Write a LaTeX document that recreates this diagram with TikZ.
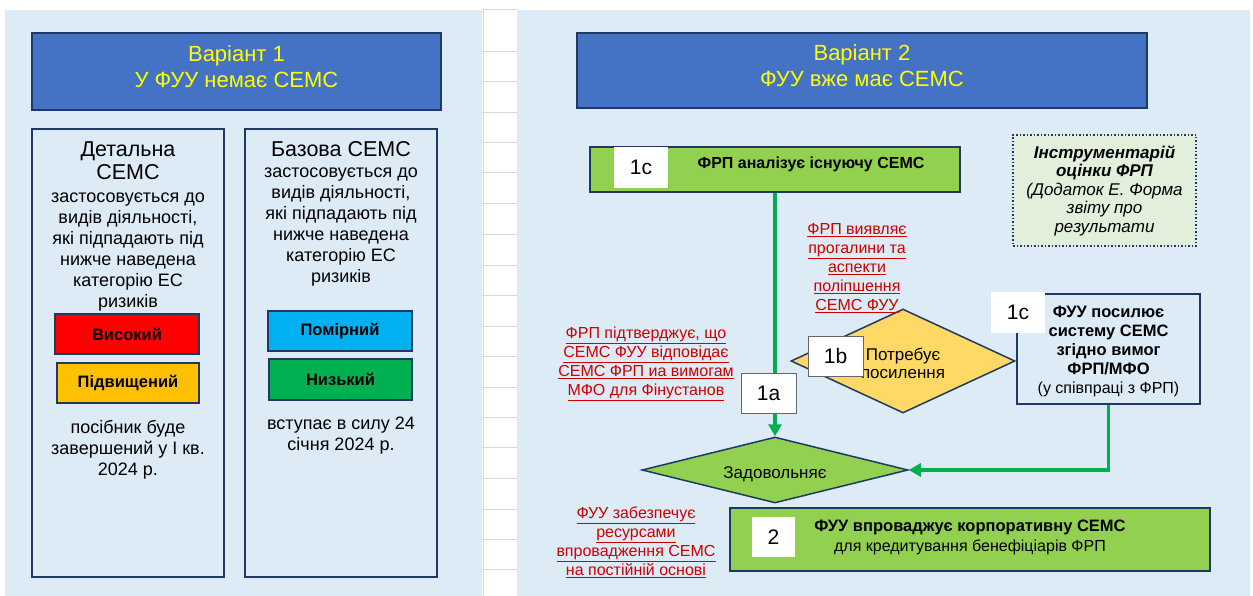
\documentclass[tikz,border=0pt]{standalone}
\usepackage{fontspec}
\setmainfont{Liberation Sans}
\usetikzlibrary{shapes.geometric,arrows.meta}
\definecolor{bgblue}{RGB}{221,235,247}
\definecolor{titleblue}{RGB}{68,114,196}
\definecolor{navy}{RGB}{31,56,100}
\definecolor{ttlyellow}{RGB}{255,255,0}
\definecolor{riskred}{RGB}{255,0,0}
\definecolor{riskorange}{RGB}{255,192,0}
\definecolor{riskblue}{RGB}{0,176,240}
\definecolor{riskgreen}{RGB}{0,176,80}
\definecolor{stepgreen}{RGB}{146,208,80}
\definecolor{diayellow}{RGB}{255,217,102}
\definecolor{toolgreen}{RGB}{226,239,218}
\definecolor{flowgreen}{RGB}{0,176,80}
\definecolor{myred}{RGB}{204,0,0}
\definecolor{gridgray}{RGB}{217,217,217}
\tikzset{
  titlebox/.style={draw=navy, line width=2pt, fill=titleblue, inner sep=0pt},
  titletxt/.style={text=ttlyellow, font=\fontsize{22}{26}\selectfont, align=center, inner sep=0pt},
  framebox/.style={draw=navy, line width=2pt, fill=bgblue, inner sep=0pt},
  riskbox/.style={draw=navy, line width=2pt, font=\bfseries\fontsize{16.5}{18}\selectfont,
    inner sep=0pt, minimum width=144pt, minimum height=40pt},
  bigtxt/.style={font=\fontsize{21.5}{23}\selectfont, align=center, inner sep=0pt},
  smalltxt/.style={font=\fontsize{18}{21}\selectfont, align=center, inner sep=0pt},
  numlabel/.style={fill=white, font=\fontsize{21}{24}\selectfont, inner sep=0pt,
    minimum width=54pt, minimum height=41pt},
  numlabelb/.style={numlabel, draw=black!60, line width=0.8pt},
  redlines/.style={text=myred, font=\fontsize{16}{19}\selectfont, align=center, inner sep=0pt},
  flowline/.style={draw=flowgreen, line width=3.5pt, -{Triangle[length=12pt,width=13pt]}},
  stepbox/.style={draw=navy, line width=2pt, fill=stepgreen, inner sep=0pt},
}
\begin{document}
\begin{tikzpicture}[x=1pt,y=-1pt]
\useasboundingbox[fill=white] (0,0) rectangle (1253,596);
% panels
\fill[bgblue] (5,10) rectangle (482,596);
\fill[bgblue] (517,10) rectangle (1250,596);
% spreadsheet grid strip
\foreach \yy in {10,52,82,113,143,173,204,235,265,295,326,356,387,417,447,478,509,539,569}
  \draw[gridgray, line width=1pt] (482,\yy) -- (517,\yy);
\draw[gridgray, line width=0.8pt] (483,10) -- (483,596);

% ===== Variant 1 =====
\node[titlebox, minimum width=409pt, minimum height=77pt] (t1) at (236.5,71.5) {};
\node[titletxt] (t1txt) at (236.5,67) {Варіант 1\\У ФУУ немає СЕМС};
\node[framebox, minimum width=192pt, minimum height=448pt] (det) at (128,353) {};
\node[framebox, minimum width=192pt, minimum height=448pt] (baz) at (341,353) {};

\node[bigtxt] (dethead) at (128,160.5) {Детальна\\СЕМС};
\node[smalltxt] (detbody) at (128,252.5)
  {застосовується до\\видів діяльності,\\які підпадають під\\нижче наведена\\категорію ЕС\\ризиків};
\node[riskbox, fill=riskred] (high) at (127,334) {Високий};
\node[riskbox, fill=riskorange, minimum width=142pt] (elev) at (128,383) {Підвищений};
\node[smalltxt] (detnote) at (128,450) {посібник буде\\завершений у І кв.\\2024 р.};

\node[bigtxt] (bazhead) at (341,149) {Базова СЕМС};
\node[smalltxt] (bazbody) at (341,227.5)
  {застосовується до\\видів діяльності,\\які підпадають під\\нижче наведена\\категорію ЕС\\ризиків};
\node[riskbox, fill=riskblue] (moder) at (340,331) {Помірний};
\node[riskbox, fill=riskgreen, minimum width=143pt, minimum height=41pt] (low) at (340.5,379.5) {Низький};
\node[smalltxt] (baznote) at (341,435.5) {вступає в силу 24\\січня 2024 р.};

% ===== Variant 2 =====
\node[titlebox, minimum width=570pt, minimum height=75pt] (t2) at (862,70.5) {};
\node[titletxt] (t2txt) at (862,66) {Варіант 2\\ФУУ вже має СЕМС};

\node[stepbox, minimum width=370pt, minimum height=45pt] (s1c) at (775,169.5) {};
\node[font=\bfseries\fontsize{16}{17}\selectfont, inner sep=0pt] (s1ctxt) at (811,164.5)
  {ФРП аналізує існуючу СЕМС};

\node[draw=navy, line width=1.5pt, dotted, fill=toolgreen, minimum width=183pt,
  minimum height=111pt, inner sep=0pt, align=center,
  font=\itshape\fontsize{17}{18.5}\selectfont] (tool) at (1104.5,190.5)
  {\textbf{Інструментарій}\\\textbf{оцінки ФРП}\\(Додаток Е. Форма\\звіту про\\результати};

\node[framebox, minimum width=183pt, minimum height=110pt] (fuu) at (1108.5,349) {};
\node[align=center, inner sep=0pt, font=\bfseries\fontsize{16.5}{19}\selectfont] (fuutxt) at (1108.5,351.5)
  {ФУУ посилює\\систему СЕМС\\згідно вимог\\ФРП/МФО\\{\mdseries\fontsize{16}{19}\selectfont (у співпраці з ФРП)}};

\node[diamond, shape aspect=2.15, draw=navy, line width=1.5pt, fill=diayellow,
  minimum width=224pt, minimum height=104pt, inner sep=0pt] (need) at (903,361) {};
\node[align=center, inner sep=0pt, font=\fontsize{17}{18}\selectfont] (needtxt) at (903,363)
  {Потребує\\посилення};

\node[diamond, shape aspect=4, draw=navy, line width=1.5pt, fill=stepgreen,
  minimum width=266pt, minimum height=66pt, inner sep=0pt] (zad) at (775,470) {};
\node[inner sep=0pt, font=\fontsize{17}{18}\selectfont] (zadtxt) at (775,474) {Задовольняє};

\node[stepbox, minimum width=480pt, minimum height=63pt] (s2) at (970,539.5) {};
\node[align=center, inner sep=0pt, font=\fontsize{16}{20}\selectfont] (s2txt) at (970,537.5)
  {{\bfseries\fontsize{16.5}{20}\selectfont ФУУ впроваджує корпоративну СЕМС}\\для кредитування бенефіціарів ФРП};

% red notes
\node[redlines] (r1) at (857,268)
  {\underline{ФРП виявляє}\\\underline{прогалини та}\\\underline{аспекти}\\\underline{поліпшення}\\\underline{СЕМС ФУУ}};
\node[redlines] (r2) at (646,364)
  {\underline{ФРП підтверджує, що}\\\underline{СЕМС ФУУ відповідає}\\\underline{СЕМС ФРП иа вимогам}\\\underline{МФО для Фінустанов}};
\node[redlines] (r3) at (636,542)
  {\underline{ФУУ забезпечує}\\\underline{ресурсами}\\\underline{впровадження СЕМС}\\\underline{на постійній основі}};

% connectors
\draw[flowline] (zad.north |- s1c.south) -- (zad.north);
\draw[flowline] (fuu.south) |- (zad.east);

% number labels
\node[numlabel] (l1c) at (641,167.5) {1c};
\node[numlabel] (l1c2) at (1018,312.5) {1c};
\node[numlabelb, minimum width=55pt, minimum height=40pt] (l1b) at (835.5,356) {1b};
\node[numlabelb, minimum width=55pt, minimum height=40pt] (l1a) at (768.5,393) {1a};
\node[numlabel, minimum width=43pt, minimum height=40pt] (l2) at (773.5,537) {2};
\end{tikzpicture}
\end{document}
